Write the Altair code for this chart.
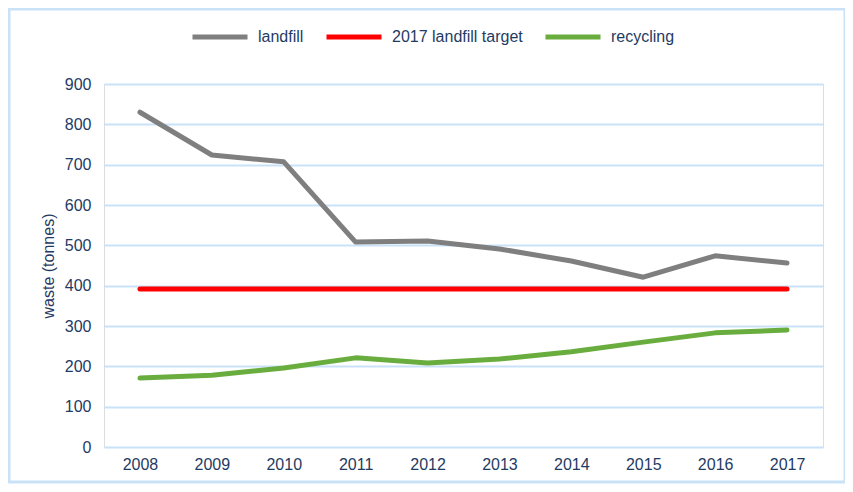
import altair as alt
import pandas as pd

years = ["2008", "2009", "2010", "2011", "2012", "2013", "2014", "2015", "2016", "2017"]
landfill = [830, 724, 707, 508, 511, 491, 461, 421, 474, 456]
target = [392, 392, 392, 392, 392, 392, 392, 392, 392, 392]
recycling = [171, 178, 196, 221, 208, 218, 236, 260, 283, 290]
series_names = ["landfill", "2017 landfill target", "recycling"]
series_colors = ["#7F7F7F", "#FF0000", "#6AAD3F"]
y_ticks = [0, 100, 200, 300, 400, 500, 600, 700, 800, 900]

rows = []
for name, vals in zip(series_names, [landfill, target, recycling]):
    for yr, v in zip(years, vals):
        rows.append({"year": yr, "waste": v, "series": name})
df = pd.DataFrame(rows)

NAVY = "#1F3B63"
GRID = "#C9E2F8"
FONT = "Liberation Sans"

lines = alt.Chart(df).mark_line(strokeWidth=5, strokeCap="round", strokeJoin="round").encode(
    x=alt.X("year:O", sort=years,
            scale=alt.Scale(type="point", padding=0.5),
            axis=alt.Axis(title=None, labelAngle=0, domain=False, ticks=False,
                          labelPadding=9, labelFontSize=16, labelColor=NAVY, labelFont=FONT,
                          grid=False)),
    y=alt.Y("waste:Q", scale=alt.Scale(domain=[0, 900], nice=False),
            axis=alt.Axis(title="waste (tonnes)", values=y_ticks, domain=False, ticks=False,
                          labelPadding=13, labelFontSize=16, labelColor=NAVY, labelFont=FONT,
                          titleFontSize=16, titleFontWeight="normal", titleColor=NAVY,
                          titleFont=FONT, titlePadding=8,
                          gridColor=GRID, gridWidth=2)),
    color=alt.Color("series:N", sort=series_names,
                    scale=alt.Scale(domain=series_names, range=series_colors),
                    legend=alt.Legend(title=None, orient="none", direction="horizontal",
                                      legendX=86, legendY=-77,
                                      symbolType="stroke", symbolStrokeWidth=5,
                                      symbolSize=3025, labelFontSize=16, labelColor=NAVY,
                                      labelFont=FONT, labelOffset=8, columnPadding=12)),
)

frame = alt.Chart(pd.DataFrame({"a": [0]})).mark_rect(
    fill=None, stroke=GRID, strokeWidth=3
).encode(
    x=alt.value(-95), x2=alt.value(741), y=alt.value(-75), y2=alt.value(398)
)

chart = alt.layer(frame, lines).properties(
    width=719, height=363,
    padding={"left": 96, "top": 76, "right": 22, "bottom": 37},
    autosize=alt.AutoSizeParams(type="none"),
).configure_view(stroke=None).configure(font=FONT, background="white")

chart.save("out.html", embed_options={"renderer": "svg", "actions": False})
